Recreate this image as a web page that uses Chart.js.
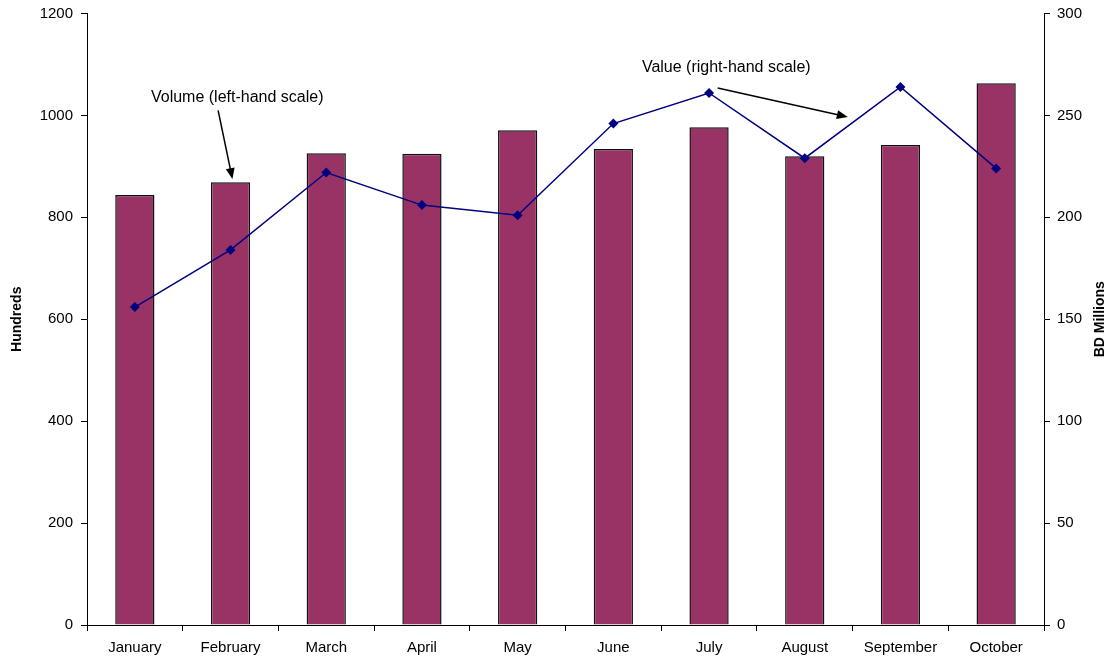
<!DOCTYPE html>
<html>
<head>
<meta charset="utf-8">
<script src="https://cdn.jsdelivr.net/npm/chart.js@4/dist/chart.umd.min.js"></script>
<style>
  html, body { margin: 0; padding: 0; background: #fff; }
  #wrap { width: 1113px; height: 658px; }
</style>
</head>
<body>
<div id="wrap"><canvas id="c" width="1113" height="658"></canvas></div>
<script>
// Monthly cheque clearing: volume (hundreds, left axis) and value (BD millions, right axis)
const months = ['January', 'February', 'March', 'April', 'May', 'June', 'July', 'August', 'September', 'October'];
const volumeHundreds = [844, 869, 926, 925, 971, 934, 977, 920, 942, 1063];
const valueBDMillions = [156, 184, 222, 206, 201, 246, 261, 229, 264, 224];
const leftTicks = [0, 200, 400, 600, 800, 1000, 1200];
const rightTicks = [0, 50, 100, 150, 200, 250, 300];

const FONT = '"Liberation Sans", Arial, sans-serif';

// Callout notes, anchored in data space (category index, left-axis value)
const callouts = [
  { text: 'Volume (left-hand scale)', tx: 1.07, ty: 1034, ax0: 0.87, ay0: 1010, ax1: 1.02, ay1: 875 },
  { text: 'Value (right-hand scale)', tx: 6.18, ty: 1094, ax0: 6.09, ay0: 1054, ax1: 7.45, ay1: 997 }
];

const overlay = {
  id: 'overlay',
  afterDraw(chart) {
    const { ctx, scales } = chart;
    const x = scales.x, y = scales.y;
    ctx.save();
    ctx.fillStyle = '#000';
    ctx.strokeStyle = '#000';
    ctx.font = '16px ' + FONT;
    ctx.textAlign = 'center';
    ctx.textBaseline = 'middle';
    callouts.forEach(c => {
      const px = i => x.getPixelForValue(Math.floor(i)) + (i - Math.floor(i)) * (x.getPixelForValue(1) - x.getPixelForValue(0));
      ctx.fillText(c.text, px(c.tx), y.getPixelForValue(c.ty));
      const x0 = px(c.ax0), y0 = y.getPixelForValue(c.ay0);
      const x1 = px(c.ax1), y1 = y.getPixelForValue(c.ay1);
      const ang = Math.atan2(y1 - y0, x1 - x0);
      ctx.lineWidth = 1.5;
      ctx.beginPath();
      ctx.moveTo(x0, y0);
      ctx.lineTo(x1 - 8 * Math.cos(ang), y1 - 8 * Math.sin(ang));
      ctx.stroke();
      ctx.beginPath();
      ctx.moveTo(x1, y1);
      ctx.lineTo(x1 - 11 * Math.cos(ang) + 4.5 * Math.sin(ang), y1 - 11 * Math.sin(ang) - 4.5 * Math.cos(ang));
      ctx.lineTo(x1 - 11 * Math.cos(ang) - 4.5 * Math.sin(ang), y1 - 11 * Math.sin(ang) + 4.5 * Math.cos(ang));
      ctx.closePath();
      ctx.fill();
    });
    // axis titles, both reading bottom to top
    const midY = (chart.chartArea.top + chart.chartArea.bottom) / 2;
    ctx.font = 'bold 14px ' + FONT;
    [['Hundreds', 17], ['BD Millions', 1100]].forEach(([t, cx]) => {
      ctx.save();
      ctx.translate(cx, midY);
      ctx.rotate(-Math.PI / 2);
      ctx.fillText(t, 0, 0);
      ctx.restore();
    });
    ctx.restore();
  }
};

const plain = v => String(v);

new Chart(document.getElementById('c'), {
  data: {
    labels: months,
    datasets: [
      {
        type: 'line',
        label: 'Value',
        data: valueBDMillions,
        yAxisID: 'y1',
        borderColor: '#000080',
        backgroundColor: '#000080',
        borderWidth: 1.5,
        pointStyle: 'rectRot',
        pointRadius: 5,
        pointBorderWidth: 0,
        tension: 0,
        order: 0
      },
      {
        type: 'bar',
        label: 'Volume',
        data: volumeHundreds,
        yAxisID: 'y',
        backgroundColor: '#993366',
        borderColor: '#111',
        borderWidth: 1.5,
        barPercentage: 0.41,
        categoryPercentage: 1,
        order: 1
      }
    ]
  },
  options: {
    responsive: false,
    animation: false,
    layout: { padding: { top: 13.5, bottom: 0, left: 0, right: 0 } },
    plugins: { legend: { display: false }, tooltip: { enabled: false } },
    scales: {
      x: {
        offset: true,
        grid: { offset: true, drawOnChartArea: false, color: '#000', tickLength: 6 },
        border: { color: '#000', width: 1 },
        ticks: { color: '#000', font: { family: FONT, size: 15 }, padding: 8, maxRotation: 0 },
        afterFit(s) { s.height = 33; s.paddingLeft = 0; s.paddingRight = 0; }
      },
      y: {
        position: 'left',
        min: 0, max: 1200,
        afterBuildTicks(s) { s.ticks = leftTicks.map(v => ({ value: v })); },
        grid: { drawOnChartArea: false, color: '#000', tickLength: 6 },
        border: { color: '#000', width: 1 },
        ticks: { color: '#000', font: { family: FONT, size: 15 }, padding: 8, callback: plain },
        afterFit(s) { s.width = 87; s.paddingTop = 0; s.paddingBottom = 0; }
      },
      y1: {
        position: 'right',
        min: 0, max: 300,
        afterBuildTicks(s) { s.ticks = rightTicks.map(v => ({ value: v })); },
        grid: { drawOnChartArea: false, color: '#000', tickLength: 6 },
        border: { color: '#000', width: 1 },
        ticks: { color: '#000', font: { family: FONT, size: 15 }, padding: 7, callback: plain },
        afterFit(s) { s.width = 69; s.paddingTop = 0; s.paddingBottom = 0; }
      }
    }
  },
  plugins: [overlay]
});
</script>
</body>
</html>
